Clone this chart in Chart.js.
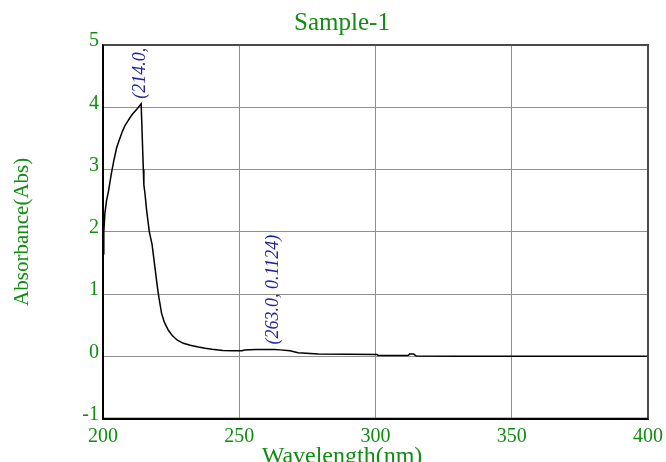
<!DOCTYPE html>
<html>
<head>
<meta charset="utf-8">
<script src="https://cdn.jsdelivr.net/npm/chart.js@4"></script>
<style>
  html, body { margin: 0; padding: 0; background: #fff; }
  #wrap { width: 666px; height: 462px; }
</style>
</head>
<body>
<div id="wrap"><canvas id="spectrum"></canvas></div>
<script>
// spectrum (nm, Abs)
const wavelength = [200.0, 200.3, 200.7, 201.3, 202.0, 203.0, 204.0, 205.0, 206.0, 207.0, 208.0, 209.0, 210.0, 211.0, 212.0, 213.0, 214.0,
  214.8, 215.0, 215.4, 216.0, 217.0, 218.0, 219.0, 220.0, 220.5, 221.5, 222.5, 224.0, 225.5, 227.3, 229.5, 232.0, 235.0, 237.5,
  240.0, 244.0, 248.0, 251.0, 252.0, 256.0, 263.0, 265.0, 268.6, 271.6, 279.0, 290.0, 300.5, 301.0, 312.0, 312.5, 314.0, 315.0,
  330.0, 360.0, 400.0];
const absorbance = [1.65, 2.0, 2.3, 2.5, 2.65, 2.92, 3.15, 3.35, 3.48, 3.60, 3.70, 3.77, 3.84, 3.90, 3.95, 4.0, 4.055,
  3.00, 2.75, 2.62, 2.35, 2.00, 1.80, 1.45, 1.10, 0.95, 0.69, 0.55, 0.42, 0.33, 0.26, 0.21, 0.18, 0.15, 0.13,
  0.115, 0.095, 0.09, 0.09, 0.105, 0.11, 0.1124, 0.105, 0.09, 0.06, 0.037, 0.034, 0.032, 0.016, 0.016, 0.037, 0.037, 0.005,
  0.003, 0.003, 0.003];

const xTicks = [200, 250, 300, 350, 400];
const yTicks = [-1, 0, 1, 2, 3, 4, 5];

// peak labels
const peakX = [214.0, 263.0];
const peakY = [4.055, 0.1124];
const peakLabels = ['(214.0, 4.0554)', '(263.0, 0.1124)'];

const GREEN = '#108c10';
const SERIF = '"Liberation Serif", "Times New Roman", serif';

// frame round the plot
const framePlugin = {
  id: 'frame',
  afterDatasetsDraw(chart) {
    const { ctx, chartArea: a } = chart;
    ctx.save();
    ctx.lineWidth = 2;
    ctx.strokeStyle = '#4a4a4a';
    ctx.beginPath();
    ctx.moveTo(a.left, a.top);
    ctx.lineTo(a.right, a.top);
    ctx.lineTo(a.right, a.bottom);
    ctx.stroke();
    ctx.strokeStyle = '#000';
    ctx.beginPath();
    ctx.moveTo(a.left, a.top);
    ctx.lineTo(a.left, a.bottom);
    ctx.lineTo(a.right, a.bottom);
    ctx.stroke();
    ctx.restore();
  }
};

// rotated peak labels, clipped to the plot
const peakPlugin = {
  id: 'peaks',
  afterDatasetsDraw(chart) {
    const { ctx, chartArea: a, scales: { x, y } } = chart;
    ctx.save();
    ctx.beginPath();
    ctx.rect(a.left, a.top, a.right - a.left, a.bottom - a.top);
    ctx.clip();
    ctx.font = 'italic 18px ' + SERIF;
    ctx.fillStyle = '#23239b';
    ctx.textAlign = 'left';
    ctx.textBaseline = 'middle';
    peakX.forEach((px, i) => {
      const cx = x.getPixelForValue(px) - 1;
      const cy = y.getPixelForValue(peakY[i]) - 5;
      ctx.save();
      ctx.translate(cx, cy);
      ctx.rotate(-Math.PI / 2);
      ctx.fillText(peakLabels[i], 0, 0);
      ctx.restore();
    });
    ctx.restore();
  }
};

const bgPlugin = {
  id: 'bg',
  beforeDraw(chart) {
    const ctx = chart.ctx;
    ctx.save();
    ctx.fillStyle = '#fff';
    ctx.fillRect(0, 0, chart.width, chart.height);
    ctx.restore();
  }
};

new Chart(document.getElementById('spectrum'), {
  type: 'line',
  data: {
    datasets: [{
      data: wavelength.map((w, i) => ({ x: w, y: absorbance[i] })),
      borderColor: '#000',
      borderWidth: 1.5,
      pointRadius: 0,
      fill: false,
      tension: 0
    }]
  },
  options: {
    responsive: true,
    maintainAspectRatio: false,
    animation: false,
    layout: { padding: { left: 18, right: 0, top: 0, bottom: 0 } },
    plugins: {
      legend: { display: false },
      tooltip: { enabled: false },
      title: {
        display: true,
        text: 'Sample-1',
        color: GREEN,
        font: { family: SERIF, size: 25, weight: 'normal' },
        padding: { top: 8, bottom: 7 }
      },
      subtitle: {
        display: true,
        position: 'bottom',
        text: 'Wavelength(nm)',
        color: GREEN,
        font: { family: SERIF, size: 24, weight: 'normal' },
        padding: { top: 0, bottom: -9 }
      }
    },
    scales: {
      x: {
        type: 'linear',
        min: 200,
        max: 400,
        afterBuildTicks: s => { s.ticks = xTicks.map(v => ({ value: v })); },
        afterFit: s => { s.height = 23.5; s.paddingRight = 18; },
        grid: { color: '#909090', lineWidth: 1, drawTicks: false },
        border: { color: '#000', width: 2 },
        ticks: { color: GREEN, font: { family: SERIF, size: 20 }, padding: 6, maxRotation: 0 }
      },
      y: {
        min: -1,
        max: 5,
        afterBuildTicks: s => { s.ticks = yTicks.map(v => ({ value: v })); },
        afterFit: s => { s.width = 85; },
        grid: { color: '#909090', lineWidth: 1, drawTicks: false },
        border: { color: '#000', width: 2 },
        ticks: { color: GREEN, font: { family: SERIF, size: 20 }, padding: 4, labelOffset: -4 },
        title: {
          display: true,
          text: 'Absorbance(Abs)',
          color: GREEN,
          font: { family: SERIF, size: 21 },
          padding: { top: -8, bottom: 0 }
        }
      }
    }
  },
  plugins: [bgPlugin, framePlugin, peakPlugin]
});
</script>
</body>
</html>
